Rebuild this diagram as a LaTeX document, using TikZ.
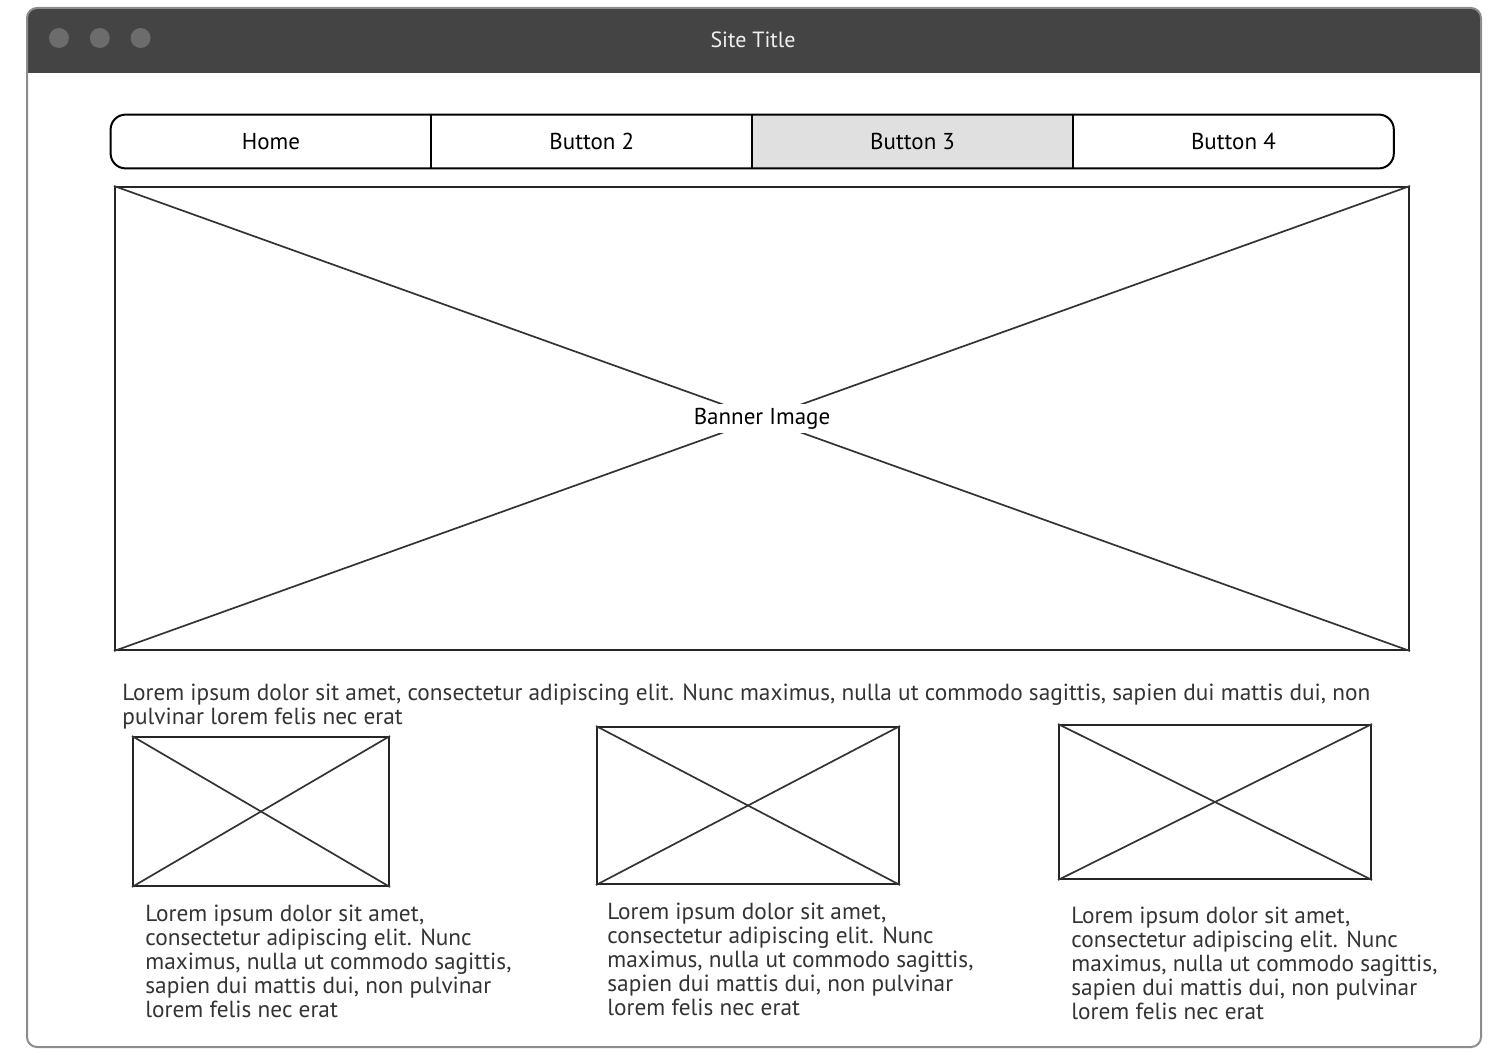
\documentclass[tikz,border=0pt]{standalone}
\usepackage{fontspec}
\setmainfont{PT Sans}
\usetikzlibrary{positioning}
\definecolor{barcolor}{RGB}{68,68,68}
\definecolor{dotcolor}{RGB}{108,108,108}
\definecolor{framecolor}{RGB}{140,140,140}
\definecolor{textcolor}{RGB}{51,51,51}
\definecolor{activecolor}{RGB}{224,224,224}

\begin{document}
\begin{tikzpicture}[
    x=0.5pt, y=-0.5pt,
    navbtn/.style={rectangle, minimum width=160pt, minimum height=26.5pt, inner sep=0pt, font=\fontsize{11.5}{13}\selectfont, text=black},
    imgbox/.style={rectangle, draw=black!85, line width=1pt, inner sep=0pt},
    cross/.style={draw=black!80, line width=0.85pt},
    para/.style={anchor=north west, inner sep=0pt, align=left, text=textcolor, font=\fontsize{11.65}{12}\selectfont},
    dot/.style={circle, fill=dotcolor, minimum size=10pt, inner sep=0pt}
]
\useasboundingbox (0,0) rectangle (1502,1054);

% Window
\begin{scope}
    \clip[rounded corners=5pt] (27,8) rectangle (1481,1047);
    \fill[barcolor] (27,8) rectangle (1481,73);
\end{scope}
\draw[framecolor, line width=1pt, rounded corners=5pt] (27,8) rectangle (1481,1047);
\node[dot] (dot1) at (59,38) {};
\node[dot, right=10pt of dot1] (dot2) {};
\node[dot, right=10pt of dot2] (dot3) {};
\node[font=\fontsize{11}{13}\selectfont, text=white!94!black] (title) at (753,40) {Site Title};

% Navigation
\node[navbtn] (home) at (271,141.5) {Home};
\node[navbtn, right=0pt of home] (btn2) {Button 2};
\node[navbtn, fill=activecolor, right=0pt of btn2] (btn3) {Button 3};
\node[navbtn, right=0pt of btn3] (btn4) {Button 4};
\draw[line width=1pt, rounded corners=7.5pt] (home.north west) rectangle (btn4.south east);
\foreach \btn in {home, btn2, btn3} {
    \draw[line width=1pt] (\btn.north east) -- (\btn.south east);
}

% Banner
\node[imgbox, minimum width=647pt, minimum height=231.5pt] (banner) at (762,418.5) {};
\draw[cross] (banner.north west) -- (banner.south east);
\draw[cross] (banner.south west) -- (banner.north east);
\node[fill=white, inner sep=2pt, font=\fontsize{11.5}{13}\selectfont, text=black] (bannerlabel) at (banner.center) {Banner Image};

% Intro text
\node[para] (intro) at (122,684) {Lorem ipsum dolor sit amet, consectetur adipiscing elit. Nunc maximus, nulla ut commodo sagittis, sapien dui mattis dui, non\\pulvinar lorem felis nec erat};

% Thumbnails
\foreach \name/\cx/\cy/\w/\h in {thumb1/261/811.5/128/74.5, thumb2/748/805.5/151/78.5, thumb3/1215/802/156/77} {
    \node[imgbox, minimum width=\w pt, minimum height=\h pt] (\name) at (\cx,\cy) {};
    \draw[cross] (\name.north west) -- (\name.south east);
    \draw[cross] (\name.south west) -- (\name.north east);
}

% Captions
\foreach \name/\cx/\cy in {caption1/145/905, caption2/607/903, caption3/1071/907} {
    \node[para] (\name) at (\cx,\cy) {Lorem ipsum dolor sit amet,\\consectetur adipiscing elit. Nunc\\maximus, nulla ut commodo sagittis,\\sapien dui mattis dui, non pulvinar\\lorem felis nec erat};
}

\end{tikzpicture}
\end{document}
